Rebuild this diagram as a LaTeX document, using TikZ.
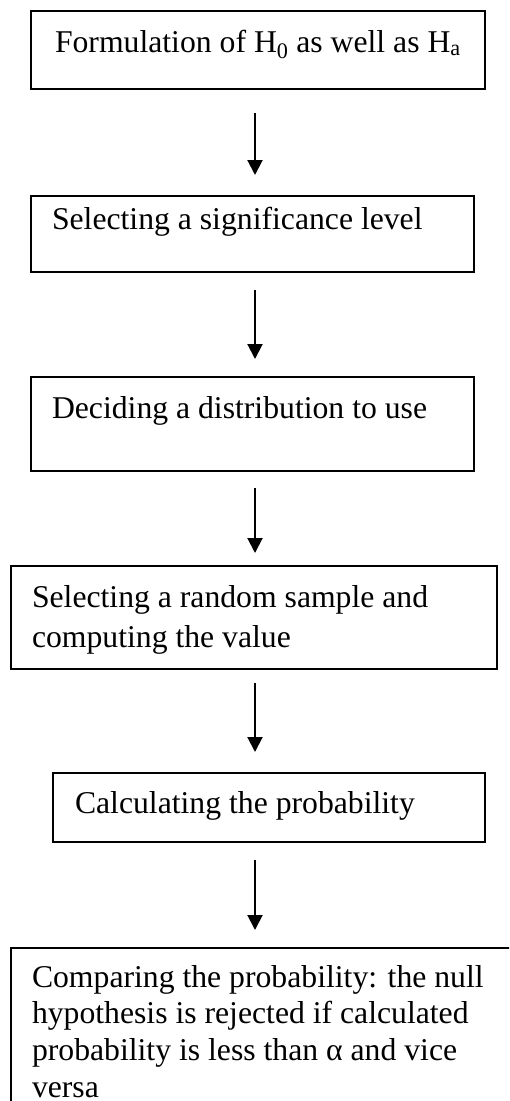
\documentclass[tikz,border=0pt]{standalone}
\usepackage{fontspec}
\setmainfont{Liberation Serif}
\usetikzlibrary{arrows.meta}
\begin{document}
\begin{tikzpicture}[x=1pt,y=-1pt,
  box/.style={draw, line width=1.6pt, inner sep=0pt, outer sep=0pt, anchor=north west},
  txt/.style={anchor=base west, inner sep=0pt, outer sep=0pt, font=\fontsize{31.7}{36.7}\selectfont},
  conn/.style={line width=2pt, -{Triangle[width=15pt,length=15pt]}}]
\useasboundingbox (0,0) rectangle (509,1101);
\clip (0,0) rectangle (509,1101);
\node[box, minimum width=454pt, minimum height=78pt] (b1) at (31,11) {};
\node[box, minimum width=443pt, minimum height=76pt] (b2) at (31,196) {};
\node[box, minimum width=443pt, minimum height=94pt] (b3) at (31,377) {};
\node[box, minimum width=486pt, minimum height=103pt] (b4) at (11,566) {};
\node[box, minimum width=432pt, minimum height=69pt] (b5) at (53,773) {};
\node[box, minimum width=520pt, minimum height=200pt] (b6) at (11,948) {};
\node[txt] (t1) at (55,52) {Formulation of H\textsubscript{0} as well as H\textsubscript{a}};
\node[txt] (t2) at (52,229) {Selecting a significance level};
\node[txt] (t3) at (52,418) {Deciding a distribution to use};
\node[txt] (t4) at (32,607) {\parbox[t]{470pt}{\fontsize{31.7}{40}\selectfont\raggedright Selecting a random sample and\\computing the value}};
\node[txt] (t5) at (75,813) {Calculating the probability};
\node[txt] (t6) at (32,987) {\parbox[t]{470pt}{\fontsize{31.7}{36.7}\selectfont\raggedright Comparing the probability: the null\\hypothesis is rejected if calculated\\probability is less than α and vice\\versa}};
\coordinate (ax) at (255,0);
\draw[conn, shorten <=24pt, shorten >=21pt] (b1.south -| ax) -- (b2.north -| ax);
\draw[conn, shorten <=18pt, shorten >=18pt] (b2.south -| ax) -- (b3.north -| ax);
\draw[conn, shorten <=17pt, shorten >=13pt] (b3.south -| ax) -- (b4.north -| ax);
\draw[conn, shorten <=14pt, shorten >=21pt] (b4.south -| ax) -- (b5.north -| ax);
\draw[conn, shorten <=18pt, shorten >=18pt] (b5.south -| ax) -- (b6.north -| ax);
\end{tikzpicture}
\end{document}
